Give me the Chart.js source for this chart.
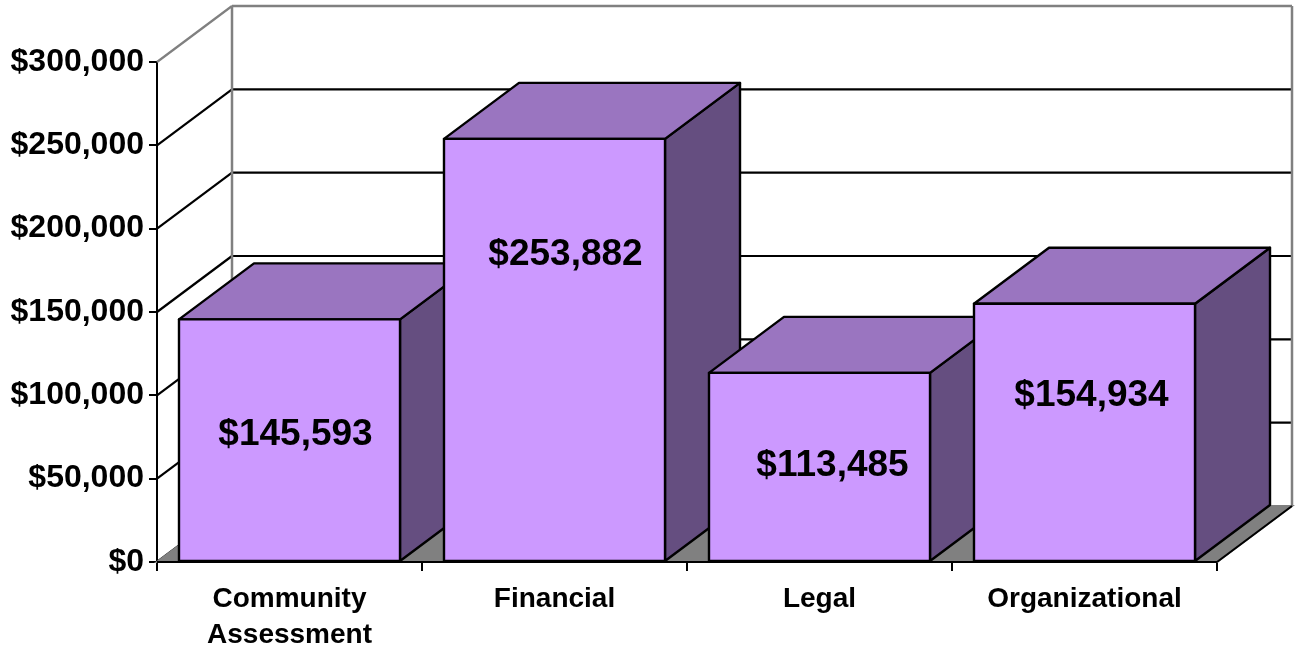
<!DOCTYPE html>
<html>
<head>
<meta charset="utf-8">
<script src="https://cdn.jsdelivr.net/npm/chart.js@4.4.1/dist/chart.umd.min.js"></script>
<style>
  html, body { margin: 0; padding: 0; background: #fff; }
</style>
</head>
<body>
<canvas id="chart" width="1296" height="645"></canvas>
<script>
const categories = [['Community', 'Assessment'], 'Financial', 'Legal', 'Organizational'];
const amounts = [145593, 253882, 113485, 154934];
const yTicks = [0, 50000, 100000, 150000, 200000, 250000, 300000];

const money = v => '$' + Number(v).toLocaleString('en-US');

// depth of the fake 3D box, in px (walls and bars share it)
const DX = 75, DY = -56;
// the data labels were placed by hand in the original; nudge from front face centre
const labelShift = [[6, -5], [11, -95], [13, -1], [7, -37]];

const FONT = '"Liberation Sans", Arial, sans-serif';
Chart.defaults.font.family = FONT;
Chart.defaults.color = '#000';

function poly(ctx, pts, fill) {
  ctx.beginPath();
  ctx.moveTo(pts[0][0], pts[0][1]);
  for (let i = 1; i < pts.length; i++) ctx.lineTo(pts[i][0], pts[i][1]);
  ctx.closePath();
  if (fill) { ctx.fillStyle = fill; ctx.fill(); }
  ctx.stroke();
}

function line(ctx, x1, y1, x2, y2, color) {
  ctx.strokeStyle = color;
  ctx.beginPath();
  ctx.moveTo(x1, y1);
  ctx.lineTo(x2, y2);
  ctx.stroke();
}

const box3d = {
  id: 'box3d',
  beforeDatasetsDraw(chart) {
    const { ctx, chartArea: a, scales: { y } } = chart;
    const top = y.max;
    ctx.save();
    ctx.lineWidth = 2.2;
    // side wall + back wall grid
    y.ticks.forEach(t => {
      const py = y.getPixelForValue(t.value);
      const c = t.value === top ? '#808080' : '#000';
      line(ctx, a.left, py, a.left + DX, py + DY, c);
      line(ctx, a.left + DX, py + DY, a.right + DX, py + DY, c);
    });
    // wall edges
    ctx.lineWidth = 2.5;
    line(ctx, a.left + DX, a.top + DY, a.left + DX, a.bottom + DY, '#808080');
    line(ctx, a.right + DX, a.top + DY, a.right + DX, a.bottom + DY, '#808080');
    line(ctx, a.left + DX, a.top + DY, a.right + DX, a.top + DY, '#808080');
    // floor
    ctx.lineWidth = 2;
    ctx.strokeStyle = '#808080';
    poly(ctx, [[a.left, a.bottom], [a.right, a.bottom], [a.right + DX, a.bottom + DY], [a.left + DX, a.bottom + DY]], '#808080');
    line(ctx, a.left, a.bottom, a.right, a.bottom, '#000');
    line(ctx, a.right, a.bottom, a.right + DX, a.bottom + DY, '#000');
    ctx.restore();
  },
  afterDatasetsDraw(chart) {
    const { ctx } = chart;
    const meta = chart.getDatasetMeta(0);
    ctx.save();
    ctx.lineWidth = 2.4;
    ctx.strokeStyle = '#000';
    ctx.lineJoin = 'round';
    meta.data.forEach(bar => {
      const { x, y, base, width } = bar.getProps(['x', 'y', 'base', 'width'], true);
      const l = x - width / 2, r = x + width / 2;
      poly(ctx, [[r, base], [r + DX, base + DY], [r + DX, y + DY], [r, y]], '#654E80');
      poly(ctx, [[l, y], [r, y], [r + DX, y + DY], [l + DX, y + DY]], '#9A75C0');
      poly(ctx, [[l, base], [r, base], [r, y], [l, y]], '#CC99FF');
    });
    ctx.font = 'bold 37px ' + FONT;
    ctx.textAlign = 'center';
    ctx.textBaseline = 'middle';
    ctx.fillStyle = '#000';
    meta.data.forEach((bar, i) => {
      const { x, y, base } = bar.getProps(['x', 'y', 'base'], true);
      ctx.fillText(money(amounts[i]), x + labelShift[i][0], (y + base) / 2 + labelShift[i][1]);
    });
    ctx.restore();
  }
};

new Chart(document.getElementById('chart'), {
  type: 'bar',
  data: {
    labels: categories,
    datasets: [{
      data: amounts,
      backgroundColor: 'rgba(0,0,0,0)',
      borderWidth: 0,
      categoryPercentage: 1,
      barPercentage: 0.834
    }]
  },
  options: {
    responsive: false,
    animation: false,
    layout: { padding: { left: 0, right: 79, top: 62, bottom: 0 } },
    plugins: { legend: { display: false }, tooltip: { enabled: false } },
    scales: {
      x: {
        grid: { offset: true, drawOnChartArea: false, drawTicks: true, tickLength: 9, color: '#000', lineWidth: 2 },
        border: { color: '#000', width: 2 },
        ticks: { color: '#000', padding: 10, maxRotation: 0, autoSkip: false,
                 font: { size: 28, weight: 'bold', lineHeight: 1.3 } },
        afterFit: s => { s.height = 83; }
      },
      y: {
        min: 0,
        max: 300000,
        afterBuildTicks: s => { s.ticks = yTicks.map(v => ({ value: v })); },
        grid: { drawOnChartArea: false, drawTicks: true, tickLength: 8, color: '#000', lineWidth: 2 },
        border: { color: '#000', width: 2 },
        ticks: { color: '#000', padding: 5, callback: v => money(v),
                 font: { size: 32, weight: 'bold' } },
        afterFit: s => { s.width = 157; }
      }
    }
  },
  plugins: [box3d]
});
</script>
</body>
</html>
